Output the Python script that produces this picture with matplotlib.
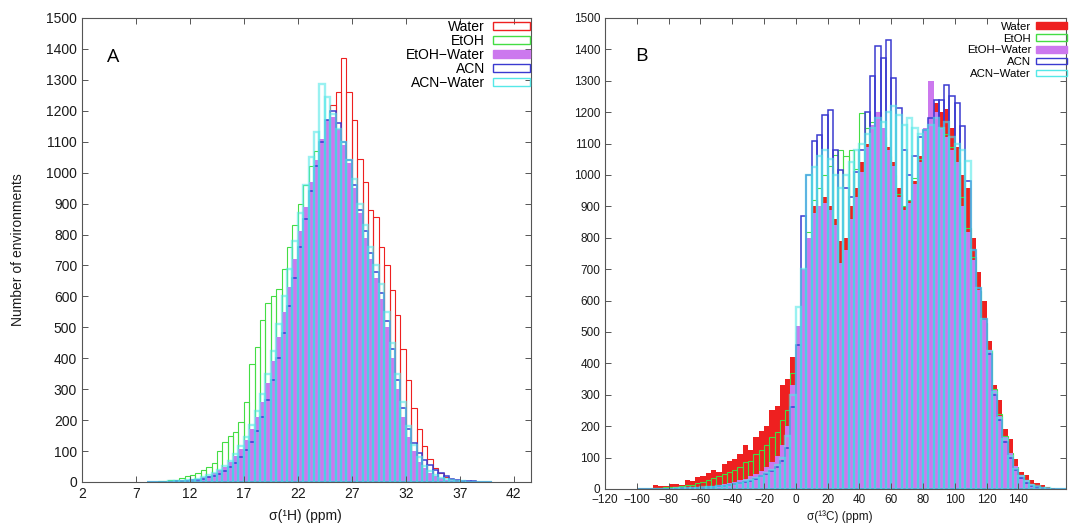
import numpy as np
import matplotlib
matplotlib.use('Agg')
import matplotlib.pyplot as plt
from matplotlib.patches import Patch

plt.rcParams['font.family'] = ['Liberation Sans', 'DejaVu Sans']

names = ['Water', 'EtOH', 'EtOH\u2212Water', 'ACN', 'ACN\u2212Water']
colors = ['#ee2020', '#44dd44', '#cc78ee', '#3a3ad0', '#55e8e8']

# sigma(1H) histograms, 0.5 ppm bins from 8 to 40 ppm
h_width = 0.5
h_centers = np.arange(8.25, 40.0, h_width)
h_water = [0, 0, 1, 1, 2, 3, 4, 5, 7, 9,
           12, 16, 22, 30, 40, 52, 68, 88, 110, 140,
           175, 215, 260, 320, 385, 455, 530, 610, 690, 770,
           850, 930, 1010, 1090, 1220, 1260, 1370, 1260, 1170, 1045,
           970, 880, 855, 760, 700, 620, 540, 430, 330, 240,
           170, 115, 75, 45, 28, 16, 9, 5, 3, 2,
           1, 1, 0, 0]
h_etoh = [1, 1, 2, 3, 5, 8, 12, 18, 22, 28,
          38, 50, 62, 100, 130, 150, 160, 195, 260, 380,
          435, 525, 580, 600, 625, 690, 760, 830, 900, 960,
          1020, 1070, 1100, 1110, 1090, 1050, 990, 930, 860, 790,
          710, 630, 560, 480, 400, 320, 240, 170, 115, 75,
          48, 30, 18, 10, 6, 3, 2, 1, 1, 0,
          0, 0, 0, 0]
h_etoh_water = [0, 0, 1, 1, 2, 3, 4, 6, 8, 11,
                15, 20, 28, 38, 50, 66, 85, 108, 135, 170,
                210, 260, 320, 390, 470, 550, 630, 720, 810, 890,
                970, 1040, 1110, 1170, 1180, 1140, 1090, 1030, 950, 870,
                790, 720, 660, 590, 500, 400, 300, 210, 145, 100,
                65, 45, 30, 20, 12, 8, 5, 3, 2, 1,
                1, 0, 0, 0]
h_acn = [0, 0, 0, 1, 1, 2, 3, 4, 6, 8,
         11, 15, 20, 27, 36, 48, 62, 80, 102, 130,
         165, 210, 265, 330, 400, 480, 570, 660, 760, 850,
         940, 1020, 1100, 1170, 1200, 1160, 1100, 1040, 960, 880,
         810, 740, 680, 610, 520, 430, 330, 240, 170, 125,
         95, 72, 55, 40, 28, 18, 11, 7, 4, 3,
         2, 1, 1, 0]
h_acn_water = [0, 1, 1, 1, 2, 3, 4, 6, 8, 11,
               15, 21, 29, 39, 52, 68, 90, 115, 145, 185,
               230, 285, 350, 425, 510, 600, 690, 780, 870, 960,
               1050, 1130, 1288, 1245, 1190, 1140, 1100, 1040, 980, 900,
               830, 760, 700, 640, 550, 450, 350, 260, 180, 120,
               80, 52, 34, 22, 14, 9, 5, 3, 2, 1,
               1, 0, 0, 0]

# sigma(13C) histograms, 81 bins from -100 to 170 ppm
c_edges = np.linspace(-100, 170, 82)
c_width = c_edges[1] - c_edges[0]
c_centers = (c_edges[:-1] + c_edges[1:]) / 2
c_water = [2, 3, 4, 12, 10, 8, 16, 15, 12, 28,
           24, 38, 42, 50, 62, 55, 80, 90, 95, 110,
           140, 125, 165, 185, 200, 250, 265, 330, 350, 420,
           510, 610, 640, 900, 880, 930, 900, 860, 790, 800,
           900, 960, 1040, 1100, 1150, 1170, 1130, 1090, 1040, 960,
           900, 920, 980, 1060, 1120, 1180, 1230, 1200, 1210, 1150,
           1090, 1000, 960, 800, 690, 600, 470, 330, 285, 190,
           160, 95, 55, 45, 30, 20, 12, 6, 3, 1,
           0]
c_etoh = [0, 1, 1, 3, 4, 5, 6, 7, 8, 12,
          14, 18, 22, 28, 34, 40, 48, 55, 62, 70,
          85, 90, 110, 125, 140, 165, 180, 220, 250, 370,
          500, 650, 820, 920, 960, 1000, 1030, 1064, 1080, 1060,
          1080, 1020, 1198, 1150, 1170, 1200, 1120, 1060, 1000, 940,
          900, 920, 990, 1050, 1100, 1150, 1180, 1150, 1130, 1090,
          1040, 930, 830, 740, 630, 530, 440, 320, 240, 170,
          115, 70, 45, 28, 16, 9, 5, 2, 1, 0,
          0]
c_etoh_water = [0, 0, 0, 1, 1, 2, 2, 3, 3, 4,
                5, 6, 7, 9, 11, 13, 16, 19, 23, 28,
                33, 40, 48, 58, 70, 85, 105, 140, 200, 330,
                520, 700, 800, 880, 900, 910, 890, 840, 720, 760,
                860, 930, 1010, 1090, 1160, 1200, 1150, 1080, 1030, 930,
                890, 910, 970, 1040, 1150, 1298, 1200, 1150, 1120, 1080,
                1040, 900, 820, 730, 634, 539, 443, 316, 231, 167,
                114, 72, 45, 28, 16, 9, 5, 2, 1, 0,
                0]
c_acn = [0, 0, 0, 0, 0, 1, 1, 1, 2, 2,
         3, 3, 4, 5, 6, 8, 10, 12, 15, 18,
         22, 27, 33, 40, 48, 58, 70, 90, 130, 260,
         460, 870, 1000, 1107, 1128, 1190, 1208, 1080, 1017, 960,
         930, 1010, 1080, 1200, 1315, 1410, 1373, 1430, 1310, 1214,
         1080, 1000, 1060, 1120, 1144, 1180, 1240, 1240, 1287, 1250,
         1230, 1155, 980, 760, 640, 540, 430, 300, 220, 150,
         100, 60, 35, 20, 10, 5, 2, 1, 0, 0,
         0]
c_acn_water = [0, 0, 0, 0, 1, 1, 1, 2, 2, 3,
               3, 4, 5, 6, 7, 9, 11, 13, 16, 20,
               24, 29, 35, 42, 50, 60, 75, 100, 170, 300,
               580, 700, 1001, 1027, 1060, 1080, 1050, 1000, 960, 1000,
               1040, 1080, 1100, 1130, 1150, 1180, 1170, 1200, 1220, 1190,
               1160, 1180, 1150, 1130, 1144, 1160, 1180, 1150, 1170, 1120,
               1100, 1080, 1043, 760, 640, 540, 440, 310, 225, 160,
               105, 65, 40, 24, 14, 8, 4, 2, 1, 0,
               0]

h_data = [h_water, h_etoh, h_etoh_water, h_acn, h_acn_water]
c_data = [c_water, c_etoh, c_etoh_water, c_acn, c_acn_water]
h_filled = [False, False, True, False, False]
c_filled = [True, False, True, False, False]
line_w = [0.8, 0.8, 0, 1.1, 1.7]
line_a = [1, 1, 1, 1, 0.6]

fig = plt.figure(figsize=(10.72, 5.24), dpi=100)
ax1 = fig.add_axes([0.0765, 0.0802, 0.4188, 0.8855])
ax2 = fig.add_axes([0.5644, 0.0668, 0.4300, 0.8989])


def draw(ax, centers, width, data, filled):
    for vals, col, f, lw, a in zip(data, colors, filled, line_w, line_a):
        if f:
            ax.bar(centers, vals, width=width, color=col, linewidth=0)
        else:
            ax.bar(centers, vals, width=width, fill=False, edgecolor=col,
                   linewidth=lw, alpha=a)


def legend(ax, filled, fs, hl, hh, pad, spacing, anchor):
    handles = []
    for name, col, f in zip(names, colors, filled):
        if f:
            handles.append(Patch(facecolor=col, edgecolor=col, label=name))
        else:
            handles.append(Patch(facecolor='none', edgecolor=col, linewidth=1.0, label=name))
    ax.legend(handles=handles, loc='upper right', bbox_to_anchor=anchor,
              frameon=False, markerfirst=False, fontsize=fs, handlelength=hl,
              handleheight=hh, labelspacing=spacing, handletextpad=pad,
              borderaxespad=0, borderpad=0)


def frame(ax, fs):
    for s in ax.spines.values():
        s.set_color('#555555')
        s.set_linewidth(0.8)
    ax.tick_params(direction='in', top=True, right=True, length=4, width=0.7,
                   color='#555555', labelsize=fs, labelcolor='#1a1a1a')


draw(ax1, h_centers, h_width, h_data, h_filled)
ax1.set_xlim(2, 43.6)
ax1.set_ylim(0, 1500)
ax1.set_xticks(np.arange(2, 43, 5))
ax1.set_yticks(np.arange(0, 1501, 100))
frame(ax1, 10)
legend(ax1, h_filled, 10, 2.66, 0.6, 0.6, 0.0, (0.998, 0.996))
ax1.text(0.069, 0.915, 'A', transform=ax1.transAxes, fontsize=14,
         family='Open Sans', ha='center', va='center')

draw(ax2, c_centers, c_width, c_data, c_filled)
ax2.set_xlim(-120, 170)
ax2.set_ylim(0, 1500)
ax2.set_xticks(np.arange(-120, 141, 20))
ax2.set_yticks(np.arange(0, 1501, 100))
frame(ax2, 8.5)
legend(ax2, c_filled, 8.2, 2.7, 0.5, 0.45, 0.16, (1.002, 0.992))
ax2.text(0.078, 0.92, 'B', transform=ax2.transAxes, fontsize=14,
         family='Open Sans', ha='center', va='center')

fig.text(18 / 1072, 0.523, 'Number of environments', rotation=90,
         ha='center', va='center', fontsize=10, color='#1a1a1a')
fig.text(305 / 1072, 1 - 516 / 524, '\u03c3(\u00b9H) (ppm)', ha='center', va='center',
         fontsize=10, color='#1a1a1a')
fig.text(840 / 1072, 1 - 517 / 524, '\u03c3(\u00b9\u00b3C) (ppm)', ha='center', va='center',
         fontsize=8.5, color='#1a1a1a')

fig.savefig('out.png', dpi=100)
